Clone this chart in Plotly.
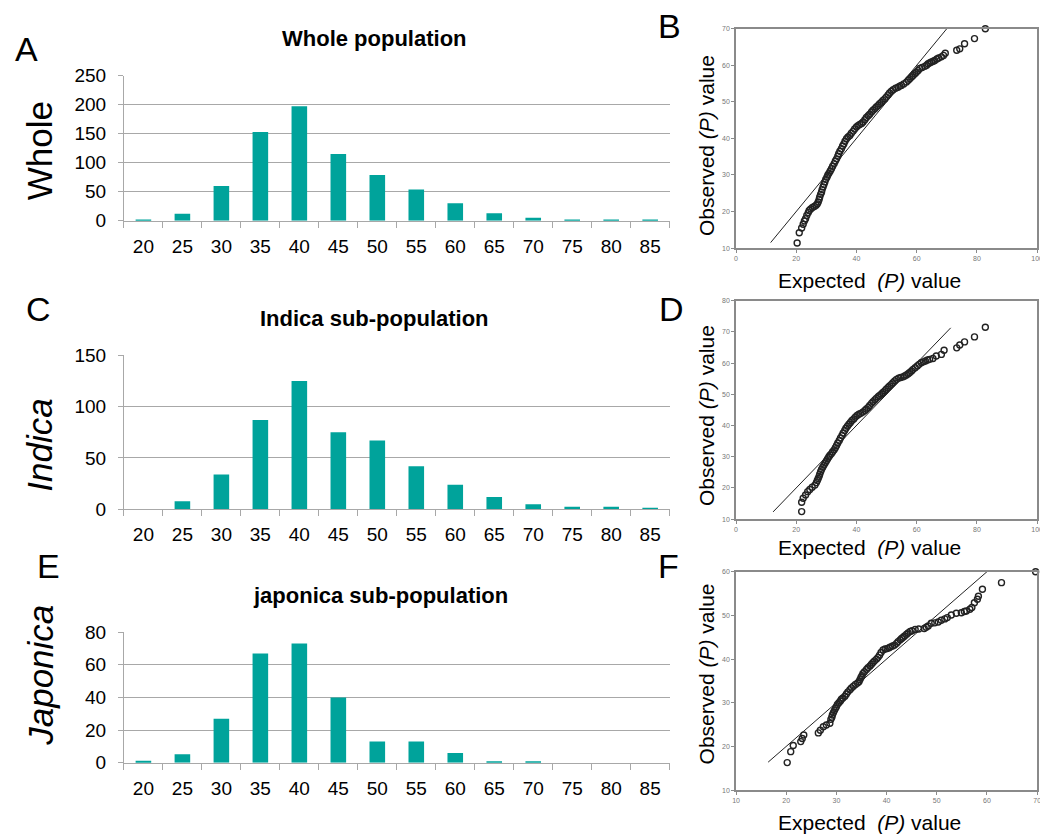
import plotly.graph_objects as go

W, H = 1048, 836
FONT = "Liberation Sans, Arial, sans-serif"

# ---------------- data ----------------
categories = ["20", "25", "30", "35", "40", "45", "50", "55", "60", "65", "70", "75", "80", "85"]
whole_counts = [2, 12, 60, 153, 197, 115, 79, 54, 30, 13, 5, 2, 2, 2]
indica_counts = [0, 8, 34, 87, 125, 75, 67, 42, 24, 12, 5, 2.5, 2.5, 1.5]
japonica_counts = [1.2, 5.3, 27, 67, 73, 40, 13, 13, 6, 1, 1, 0, 0, 0]

# QQ plot points (expected, observed)
qq_whole_x = [20.3, 21.0, 21.8, 22.3, 22.7, 23.1, 23.5, 24.0, 24.3, 24.8, 25.4, 26.0, 26.6, 27.0,
              27.3, 27.6, 27.8, 28.1, 28.4, 28.6, 28.9, 29.2, 29.5, 29.8, 30.2, 30.5, 30.9, 31.3,
              31.7, 32.1, 32.6, 33.0, 33.4, 33.8, 34.1, 34.5, 35.0, 35.4, 35.8, 36.2, 36.7, 37.2,
              37.8, 38.3, 38.9, 39.4, 40.0, 40.5, 41.1, 41.7, 42.2, 42.8, 43.3, 43.9, 44.4, 45.0,
              45.5, 46.1, 46.6, 47.2, 47.7, 48.3, 48.8, 49.4, 49.9, 50.5, 51.0, 51.6, 52.2, 53.0,
              53.8, 54.4, 54.9, 55.7, 56.6, 57.2, 57.7, 58.3, 58.8, 59.4, 59.9, 60.5, 61.0, 61.8,
              62.7, 63.3, 63.8, 64.4, 64.9, 65.5, 66.0, 66.7, 67.3, 68.2, 68.9, 69.5, 73.3, 74.3,
              75.9, 79.2, 82.8]
qq_whole_y = [11.4, 14.2, 15.5, 16.5, 17.4, 18.0, 18.9, 19.7, 20.3, 20.7, 21.1, 21.4, 21.7, 22.1,
              22.6, 23.3, 24.0, 24.7, 25.3, 26.0, 26.7, 27.4, 28.1, 28.8, 29.4, 30.0, 30.5, 31.1,
              31.7, 32.4, 33.1, 33.8, 34.4, 35.1, 35.8, 36.5, 37.2, 37.9, 38.5, 39.2, 39.9, 40.4,
              40.8, 41.4, 42.0, 42.6, 43.1, 43.5, 43.8, 44.1, 44.5, 45.1, 45.7, 46.2, 46.6, 47.2,
              47.7, 48.1, 48.6, 49.0, 49.5, 49.9, 50.4, 50.8, 51.3, 51.9, 52.4, 52.9, 53.3, 53.7,
              54.0, 54.3, 54.5, 54.9, 55.4, 55.9, 56.3, 56.8, 57.2, 57.7, 58.1, 58.6, 59.1, 59.4,
              59.7, 60.0, 60.4, 60.7, 60.9, 61.1, 61.3, 61.7, 62.0, 62.3, 62.7, 63.3, 64.1, 64.5,
              65.9, 67.3, 70.0]

qq_indica_x = [21.8, 21.8, 22.3, 23.1, 23.8, 24.5, 25.3, 26.2, 26.7, 27.0, 27.3, 27.6, 27.8, 28.1,
               28.4, 28.8, 29.2, 29.6, 30.0, 30.4, 30.8, 31.2, 31.7, 32.1, 32.6, 33.0, 33.4, 33.8,
               34.3, 34.7, 35.2, 35.6, 36.1, 36.5, 37.0, 37.5, 38.0, 38.5, 39.1, 39.6, 40.2, 40.8,
               41.4, 42.1, 42.8, 43.3, 43.9, 44.4, 45.0, 45.5, 46.1, 46.6, 47.2, 47.7, 48.3, 48.8,
               49.4, 49.9, 50.5, 51.0, 51.6, 52.1, 52.7, 53.3, 54.0, 54.7, 55.5, 56.0, 56.6, 57.2,
               57.7, 58.3, 58.8, 59.5, 60.2, 60.8, 61.5, 62.2, 62.9, 63.6, 64.3, 65.4, 66.5, 68.2,
               69.1, 73.3, 74.3, 75.9, 79.2, 82.8]
qq_indica_y = [12.4, 15.4, 16.7, 17.7, 18.8, 19.5, 20.2, 20.9, 21.7, 22.4, 23.0, 23.7, 24.4, 25.2,
               25.9, 26.6, 27.3, 28.0, 28.6, 29.3, 29.9, 30.5, 31.0, 31.6, 32.2, 32.9, 33.6, 34.4,
               35.2, 36.0, 36.8, 37.6, 38.4, 39.1, 39.8, 40.4, 41.0, 41.6, 42.1, 42.7, 43.2, 43.6,
               43.9, 44.3, 44.8, 45.3, 45.8, 46.4, 47.1, 47.6, 48.2, 48.7, 49.2, 49.6, 50.1, 50.6,
               51.1, 51.6, 52.2, 52.7, 53.2, 53.7, 54.3, 54.8, 55.2, 55.4, 55.6, 55.9, 56.2, 56.6,
               57.0, 57.5, 58.0, 58.5, 59.1, 59.6, 60.1, 60.4, 60.7, 61.0, 61.2, 61.5, 62.3, 62.8,
               64.1, 64.9, 65.8, 66.8, 68.4, 71.5]

qq_japonica_x = [20.2, 20.9, 21.4, 22.9, 23.2, 23.5, 26.4, 26.8, 27.4, 28.0, 28.7, 28.9, 29.1, 29.2,
                 29.4, 29.6, 29.8, 30.0, 30.2, 30.5, 30.8, 31.0, 31.3, 31.7, 32.0, 32.3, 32.7, 33.0,
                 33.4, 33.8, 34.2, 34.5, 34.7, 34.9, 35.1, 35.3, 35.6, 36.0, 36.3, 36.7, 37.0, 37.3,
                 37.6, 38.0, 38.3, 38.6, 38.9, 39.3, 39.7, 40.1, 40.5, 40.8, 41.2, 41.6, 42.0, 42.3,
                 42.7, 43.0, 43.3, 43.6, 44.0, 44.3, 44.7, 45.1, 45.7, 46.4, 47.5, 47.9, 48.3, 48.9,
                 49.6, 50.3, 50.9, 51.6, 52.1, 52.9, 53.9, 54.9, 55.5, 55.9, 56.6, 57.0, 57.5, 58.1,
                 58.3, 59.1, 62.9, 69.7]
qq_japonica_y = [16.3, 18.8, 20.2, 21.1, 21.8, 22.6, 23.1, 23.7, 24.5, 24.9, 25.3, 26.2, 26.7, 27.2,
                 27.7, 28.2, 28.7, 29.1, 29.6, 30.0, 30.4, 30.8, 31.1, 31.5, 32.0, 32.5, 33.0, 33.4,
                 33.8, 34.2, 34.5, 34.8, 35.3, 35.8, 36.2, 36.7, 37.1, 37.6, 38.0, 38.4, 38.8, 39.2,
                 39.6, 40.0, 40.4, 40.9, 41.5, 42.1, 42.3, 42.4, 42.6, 42.8, 43.0, 43.2, 43.6, 44.0,
                 44.4, 44.7, 45.0, 45.3, 45.7, 46.0, 46.3, 46.5, 46.8, 46.9, 47.0, 47.3, 47.6, 48.2,
                 48.3, 48.5, 48.9, 49.2, 49.5, 50.1, 50.5, 50.6, 50.9, 51.0, 51.4, 51.8, 52.9, 53.7,
                 54.4, 56.0, 57.5, 60.0]

# reference lines (y = x) extent
ref_whole = [11.5, 70]
ref_indica = [12.3, 71.3]
ref_japonica = [16.4, 60]

BAR_COLOR = "#00a39b"
GRID = "#a8a8a8"


def dx(px):
    return px / W


def dy(py):
    return 1 - py / H


fig = go.Figure()

bar_panels = [
    # (counts, xaxis, yaxis, top_px, bottom_px, range, dtick)
    (whole_counts, "x", "y", 59, 208, [0, 250], 50),
    (indica_counts, "x2", "y2", 346, 504, [0, 150], 50),
    (japonica_counts, "x3", "y3", 630, 764, [0, 80], 20),
]
BAR_L, BAR_R = 113, 664

for i, (vals, xa, ya, top, bot, rng, dt) in enumerate(bar_panels):
    fig.add_trace(go.Bar(x=categories, y=vals, xaxis=xa, yaxis=ya, width=0.4,
                         marker=dict(color=BAR_COLOR, line=dict(width=0)), showlegend=False))
    xkey = "xaxis" if i == 0 else f"xaxis{i+1}"
    ykey = "yaxis" if i == 0 else f"yaxis{i+1}"
    fig.layout[xkey] = dict(domain=[dx(BAR_L), dx(BAR_R)], anchor=ya, type="category",
                            categoryorder="array", categoryarray=categories,
                            showline=True, linecolor=GRID, linewidth=1,
                            ticks="outside", tickson="boundaries", ticklen=6, tickcolor=GRID,
                            ticklabelstandoff=8,
                            tickfont=dict(family=FONT, size=19, color="#000"),
                            showgrid=False, fixedrange=True)
    fig.layout[ykey] = dict(domain=[dy(bot), dy(top)], anchor=xa, range=rng, dtick=dt,
                            showline=True, linecolor=GRID, linewidth=1,
                            ticks="outside", ticklen=5, tickcolor=GRID,
                            ticklabelstandoff=8,
                            showgrid=True, gridcolor=GRID, gridwidth=1, zeroline=False,
                            tickfont=dict(family=FONT, size=19, color="#000"), fixedrange=True)

qq_panels = [
    (qq_whole_x, qq_whole_y, ref_whole, "x4", "y4", 11, 236, [0, 100], 20, [10, 70], 10),
    (qq_indica_x, qq_indica_y, ref_indica, "x5", "y5", 290, 514, [0, 100], 20, [10, 80], 10),
    (qq_japonica_x, qq_japonica_y, ref_japonica, "x6", "y6", 568, 792, [10, 70], 10, [10, 60], 10),
]
QQ_L, QQ_R = 731, 1035
for j, (qx, qy, ref, xa, ya, top, bot, xr, xdt, yr, ydt) in enumerate(qq_panels):
    n = j + 4
    fig.add_trace(go.Scatter(x=ref, y=ref, xaxis=xa, yaxis=ya, mode="lines",
                             line=dict(color="#222", width=1), showlegend=False, cliponaxis=True))
    fig.add_trace(go.Scatter(x=qx, y=qy, xaxis=xa, yaxis=ya, mode="markers",
                             marker=dict(symbol="circle-open", size=6, color="#222",
                                         line=dict(width=1.4, color="#222")),
                             showlegend=False, cliponaxis=False))
    fig.layout[f"xaxis{n}"] = dict(domain=[dx(QQ_L), dx(QQ_R)], anchor=ya, range=xr, dtick=xdt,
                                   showline=True, mirror=True, linecolor="#8a8a8a", linewidth=1.5,
                                   ticks="outside", ticklen=3, tickcolor="#8a8a8a",
                                   tickfont=dict(family=FONT, size=7, color="#777"),
                                   showgrid=False, zeroline=False, fixedrange=True)
    fig.layout[f"yaxis{n}"] = dict(domain=[dy(bot), dy(top)], anchor=xa, range=yr, dtick=ydt,
                                   showline=True, mirror=True, linecolor="#8a8a8a", linewidth=1.5,
                                   ticks="outside", ticklen=3, tickcolor="#8a8a8a",
                                   tickfont=dict(family=FONT, size=7, color="#777"),
                                   showgrid=False, zeroline=False, fixedrange=True)

ann = []


def txt(x, y, text, size, bold=False, angle=0, italic=False):
    t = text
    if bold:
        t = f"<b>{t}</b>"
    if italic:
        t = f"<i>{t}</i>"
    ann.append(dict(x=dx(x), y=dy(y), xref="paper", yref="paper", text=t, showarrow=False,
                    textangle=angle, xanchor="center", yanchor="middle",
                    font=dict(family=FONT, size=size, color="#000")))


# panel letters
for letter, x, y in [("A", 15, 32), ("B", 664, 8), ("C", 27, 299), ("D", 666, 299),
                     ("E", 37, 562), ("F", 663, 562)]:
    txt(x, y, letter, 34)

# bar titles
txt(366, 21, "Whole population", 22, bold=True)
txt(366, 308, "Indica sub-population", 22, bold=True)
txt(372, 592, "japonica sub-population", 22, bold=True)

# row labels
txt(28, 136, "Whole", 35, angle=-90)
txt(28, 438, "Indica", 35, angle=-90, italic=True)
txt(28, 674, "Japonica", 35, angle=-90, italic=True)

# QQ axis labels
for yc, ye in [(131, 269), (408, 543), (673, 825)]:
    txt(701, yc, "Observed <i>(P)</i> value", 21, angle=-90)
    txt(866, ye, "Expected  <i>(P)</i> value", 21)

fig.update_layout(width=W, height=H, margin=dict(l=0, r=0, t=0, b=0),
                  paper_bgcolor="white", plot_bgcolor="white", annotations=ann,
                  bargap=0.6, showlegend=False)

fig.write_html("out.html")
